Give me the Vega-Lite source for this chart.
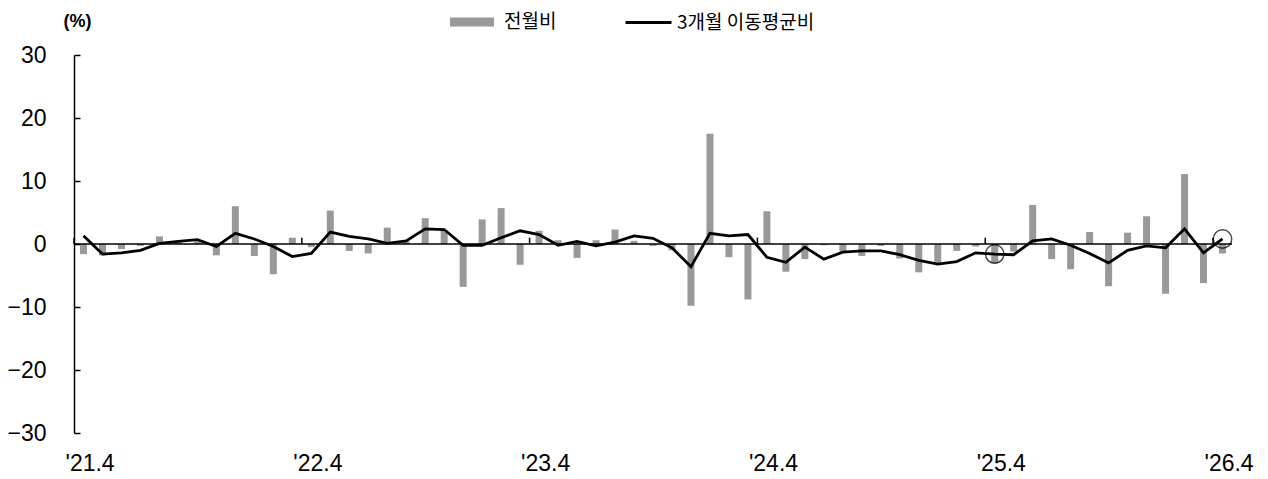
{
  "$schema": "https://vega.github.io/schema/vega-lite/v6.json",
  "autosize": "none",
  "width": 1158,
  "height": 378,
  "padding": {"left": 74, "top": 55, "right": 36, "bottom": 46},
  "background": "white",
  "config": {
    "view": {"stroke": null},
    "font": "Liberation Sans, Arial, sans-serif"
  },
  "datasets": {
    "monthly": [
      {"m": "'21.4", "mom": -1.6, "ma3": 1.3},
      {"m": "'21.5", "mom": -1.8, "ma3": -1.6},
      {"m": "'21.6", "mom": -0.8, "ma3": -1.4},
      {"m": "'21.7", "mom": -0.3, "ma3": -1.0},
      {"m": "'21.8", "mom": 1.2, "ma3": 0.1},
      {"m": "'21.9", "mom": 0.3, "ma3": 0.4},
      {"m": "'21.10", "mom": 0.4, "ma3": 0.7},
      {"m": "'21.11", "mom": -1.8, "ma3": -0.4},
      {"m": "'21.12", "mom": 6.0, "ma3": 1.7},
      {"m": "'22.1", "mom": -1.9, "ma3": 0.8},
      {"m": "'22.2", "mom": -4.8, "ma3": -0.4},
      {"m": "'22.3", "mom": 1.0, "ma3": -2.0},
      {"m": "'22.4", "mom": -0.5, "ma3": -1.5},
      {"m": "'22.5", "mom": 5.3, "ma3": 1.9},
      {"m": "'22.6", "mom": -1.1, "ma3": 1.2},
      {"m": "'22.7", "mom": -1.5, "ma3": 0.8},
      {"m": "'22.8", "mom": 2.6, "ma3": 0.1},
      {"m": "'22.9", "mom": 0.4, "ma3": 0.5},
      {"m": "'22.10", "mom": 4.1, "ma3": 2.4},
      {"m": "'22.11", "mom": 2.2, "ma3": 2.3},
      {"m": "'22.12", "mom": -6.8, "ma3": -0.2},
      {"m": "'23.1", "mom": 3.9, "ma3": -0.2},
      {"m": "'23.2", "mom": 5.7, "ma3": 1.0},
      {"m": "'23.3", "mom": -3.3, "ma3": 2.1},
      {"m": "'23.4", "mom": 2.1, "ma3": 1.5},
      {"m": "'23.5", "mom": 0.6, "ma3": -0.2},
      {"m": "'23.6", "mom": -2.2, "ma3": 0.4},
      {"m": "'23.7", "mom": 0.6, "ma3": -0.3},
      {"m": "'23.8", "mom": 2.3, "ma3": 0.3},
      {"m": "'23.9", "mom": 0.5, "ma3": 1.3},
      {"m": "'23.10", "mom": -0.3, "ma3": 0.9},
      {"m": "'23.11", "mom": -1.0, "ma3": -0.6},
      {"m": "'23.12", "mom": -9.8, "ma3": -3.6},
      {"m": "'24.1", "mom": 17.5, "ma3": 1.7},
      {"m": "'24.2", "mom": -2.1, "ma3": 1.3},
      {"m": "'24.3", "mom": -8.8, "ma3": 1.5},
      {"m": "'24.4", "mom": 5.2, "ma3": -2.1},
      {"m": "'24.5", "mom": -4.4, "ma3": -2.9},
      {"m": "'24.6", "mom": -2.4, "ma3": -0.5},
      {"m": "'24.7", "mom": -0.2, "ma3": -2.4},
      {"m": "'24.8", "mom": -1.2, "ma3": -1.3},
      {"m": "'24.9", "mom": -1.9, "ma3": -1.1},
      {"m": "'24.10", "mom": -0.3, "ma3": -1.1},
      {"m": "'24.11", "mom": -2.3, "ma3": -1.7},
      {"m": "'24.12", "mom": -4.5, "ma3": -2.6},
      {"m": "'25.1", "mom": -3.0, "ma3": -3.2},
      {"m": "'25.2", "mom": -1.1, "ma3": -2.8},
      {"m": "'25.3", "mom": -0.4, "ma3": -1.4},
      {"m": "'25.4", "mom": -3.1, "ma3": -1.6},
      {"m": "'25.5", "mom": -1.2, "ma3": -1.7},
      {"m": "'25.6", "mom": 6.2, "ma3": 0.5},
      {"m": "'25.7", "mom": -2.4, "ma3": 0.8},
      {"m": "'25.8", "mom": -4.0, "ma3": -0.2},
      {"m": "'25.9", "mom": 1.9, "ma3": -1.5},
      {"m": "'25.10", "mom": -6.7, "ma3": -3.0},
      {"m": "'25.11", "mom": 1.8, "ma3": -1.0},
      {"m": "'25.12", "mom": 4.4, "ma3": -0.3},
      {"m": "'26.1", "mom": -7.9, "ma3": -0.6},
      {"m": "'26.2", "mom": 11.1, "ma3": 2.4},
      {"m": "'26.3", "mom": -6.2, "ma3": -1.4},
      {"m": "'26.4", "mom": -1.5, "ma3": 0.8}
    ]
  },
  "layer": [
    {
      "data": {"name": "monthly"},
      "mark": {"type": "bar", "size": 7},
      "encoding": {
        "x": {
          "field": "m", "type": "ordinal", "sort": null,
          "scale": {"paddingInner": 0, "paddingOuter": 0},
          "axis": {
            "orient": "bottom", "domain": false, "ticks": false, "grid": false,
            "title": null, "labelAngle": 0,
            "labelAlign": "left", "labelOffset": -18, "labelPadding": 19,
            "labelFontSize": 23, "labelColor": "black", "labelOverlap": false,
            "labelExpr": "slice(datum.label, -2) == '.4' ? datum.label : ''"
          }
        },
        "y": {
          "field": "mom", "type": "quantitative",
          "scale": {"domain": [-30, 30], "nice": false, "zero": false},
          "axis": {
            "values": [-30, -20, -10, 0, 10, 20, 30], "grid": false,
            "domainColor": "black", "domainWidth": 1.5,
            "tickColor": "black", "tickWidth": 1.5, "tickSize": -6,
            "labelPadding": 34, "labelFontSize": 23, "labelColor": "black",
            "title": "(%)", "titleAngle": 0, "titleX": 3, "titleY": -34,
            "titleAlign": "center", "titleBaseline": "middle",
            "titleFontSize": 18, "titleFontWeight": "bold", "titleColor": "black"
          }
        },
        "fill": {
          "datum": "전월비",
          "scale": {"range": ["#999999"]},
          "legend": {
            "orient": "none", "legendX": 375, "legendY": -56, "title": null,
            "symbolType": "M-1,-0.2H1V0.2H-1Z", "symbolSize": 1936,
            "labelFont": "Noto Sans CJK KR", "labelFontSize": 19,
            "labelColor": "black", "labelOffset": 9, "padding": 0
          }
        }
      }
    },
    {
      "data": {"values": [{}]},
      "mark": {"type": "rule", "color": "black", "strokeWidth": 1.5},
      "encoding": {"y": {"datum": 0}}
    },
    {
      "data": {"name": "monthly"},
      "mark": {"type": "rule", "color": "black", "strokeWidth": 1.5},
      "encoding": {
        "x": {"field": "m", "type": "ordinal", "sort": null, "bandPosition": 0},
        "y": {"datum": 0},
        "y2": {"datum": 1},
        "strokeOpacity": {
          "condition": {"test": "slice(datum.m, -2) == '.4'", "value": 1},
          "value": 0
        }
      }
    },
    {
      "data": {"name": "monthly"},
      "mark": {"type": "line", "strokeWidth": 2.8},
      "encoding": {
        "x": {"field": "m", "type": "ordinal", "sort": null},
        "y": {"field": "ma3", "type": "quantitative"},
        "stroke": {
          "datum": "3개월 이동평균비",
          "scale": {"range": ["#000000"]},
          "legend": {
            "orient": "none", "legendX": 550, "legendY": -57, "title": null,
            "symbolType": "stroke", "symbolSize": 2116, "symbolStrokeWidth": 3,
            "labelFont": "Noto Sans CJK KR", "labelFontSize": 19,
            "labelColor": "black", "labelOffset": 4, "padding": 0
          }
        }
      }
    },
    {
      "data": {"name": "monthly"},
      "mark": {"type": "point", "filled": false, "size": 340, "strokeWidth": 1.5, "color": "black"},
      "encoding": {
        "x": {"field": "m", "type": "ordinal", "sort": null},
        "y": {"field": "ma3", "type": "quantitative"},
        "strokeOpacity": {
          "condition": {"test": "datum.m == \"'25.4\" || datum.m == \"'26.4\"", "value": 1},
          "value": 0
        }
      }
    }
  ]
}
